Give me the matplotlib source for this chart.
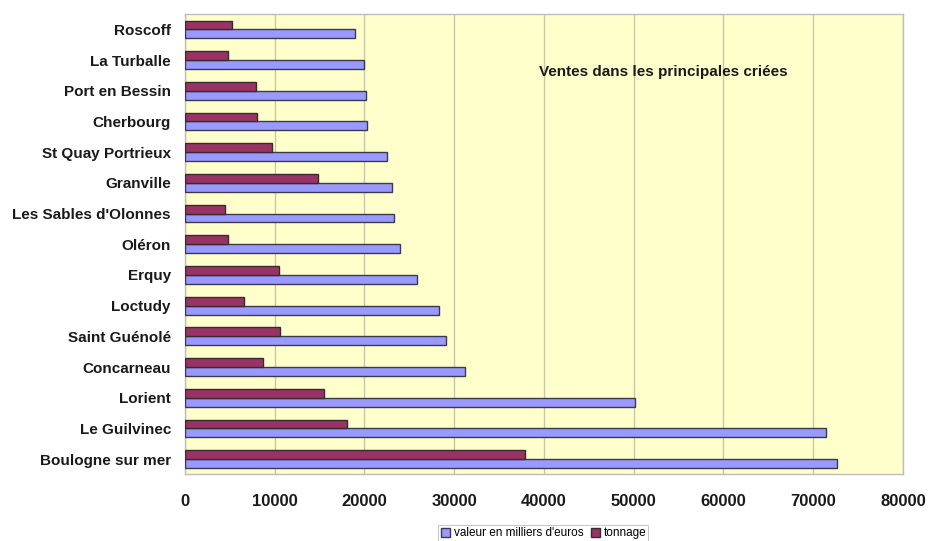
import matplotlib.pyplot as plt
import numpy as np

plt.rcParams['font.family'] = ['Liberation Sans', 'DejaVu Sans']

# criées, de bas en haut
criees = ["Boulogne sur mer", "Le Guilvinec", "Lorient", "Concarneau",
          "Saint Guénolé", "Loctudy", "Erquy", "Oléron",
          "Les Sables d'Olonnes", "Granville", "St Quay Portrieux",
          "Cherbourg", "Port en Bessin", "La Turballe", "Roscoff"]
valeur = [72600, 71400, 50100, 31200, 29100, 28300, 25900, 24000,
          23300, 23100, 22500, 20300, 20150, 20000, 19000]
tonnage = [37900, 18100, 15500, 8700, 10600, 6600, 10500, 4800,
           4500, 14800, 9700, 8050, 7900, 4800, 5200]
xticks = [0, 10000, 20000, 30000, 40000, 50000, 60000, 70000, 80000]

fig = plt.figure(figsize=(9.29, 5.41), dpi=100)
ax = fig.add_axes([0.199, 0.123, 0.773, 0.851])
ax.set_facecolor("#FFFFCC")

y = np.arange(len(criees))
h = 0.29
ax.barh(y - h / 2, valeur, height=h, color="#9999FF", edgecolor="#3a3a4a",
        linewidth=1, label="valeur en milliers d'euros", zorder=3)
ax.barh(y + h / 2, tonnage, height=h, color="#993366", edgecolor="#3a2a30",
        linewidth=1, label="tonnage", zorder=3)

ax.set_xlim(0, 80000)
ax.set_ylim(-0.5, len(criees) - 0.5)
ax.set_xticks(xticks)
ax.set_xticklabels([str(v) for v in xticks], fontsize=12, fontweight="bold")
ax.set_yticks(y)
ax.set_yticklabels(criees, fontsize=11, fontweight="bold")
ax.tick_params(axis="both", length=0, colors="#1a1a1a")
ax.tick_params(axis="x", pad=14)
ax.tick_params(axis="y", pad=10)
ax.xaxis.grid(True, color="#c8c8a8", linewidth=1, zorder=0)

for s in ax.spines.values():
    s.set_color("#bdbdbd")
    s.set_linewidth(1)

ax.text(53300, 12.62, "Ventes dans les principales criées", ha="center",
        va="center", fontsize=11, fontweight="bold", color="#1a1a1a")

leg = fig.legend(loc="center", bbox_to_anchor=(0.585, 0.014), ncol=2,
                 fontsize=8.5, frameon=True, fancybox=False, handlelength=0.8,
                 handleheight=0.8, handletextpad=0.3, columnspacing=0.6,
                 borderpad=0.2, edgecolor="#bbbbbb")
leg.get_frame().set_linewidth(0.8)

fig.savefig("out.png", dpi=100)
